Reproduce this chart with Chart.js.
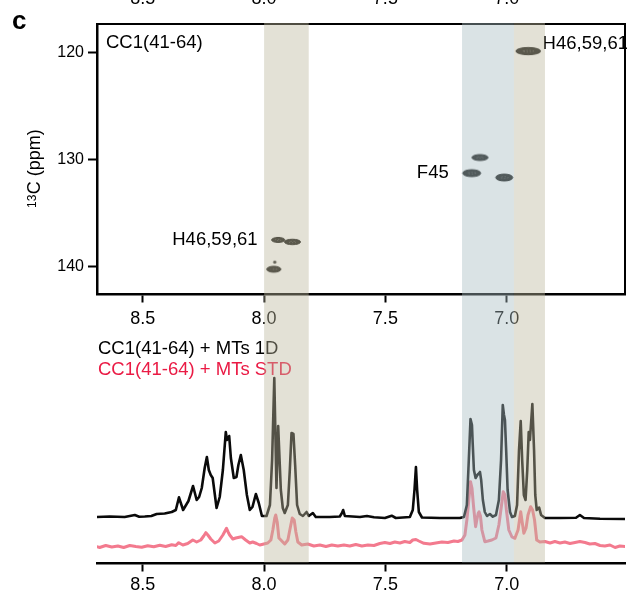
<!DOCTYPE html>
<html>
<head>
<meta charset="utf-8">
<script src="https://cdn.jsdelivr.net/npm/chart.js@4/dist/chart.umd.min.js"></script>
<style>
  html, body { margin: 0; padding: 0; background: #fff; }
  #wrap { position: relative; width: 627px; height: 595px; overflow: hidden; }
  #wrap canvas { position: absolute; left: 0; }
  #hsqc { top: 0; }
  #oneD { top: 330px; }
</style>
</head>
<body>
<div id="wrap">
  <canvas id="hsqc" width="627" height="330"></canvas>
  <canvas id="oneD" width="627" height="265"></canvas>
</div>
<script>
// ---- axes -------------------------------------------------------------
const protonRange = [6.512, 8.689];          // 1H, ppm (drawn high -> low)
const protonTicks = [8.5, 8.0, 7.5, 7.0];
const carbonRange = [117.36, 142.62];        // 13C, ppm (drawn low -> high, downward)
const carbonTicks = [120, 130, 140];

// ---- 1H-13C cross peaks -----------------------------------------------
const peakH      = [6.911, 7.110, 7.144, 7.010, 7.942, 7.883, 7.960, 7.956];
const peakC      = [119.89, 129.83, 131.29, 131.70, 137.52, 137.71, 140.26, 139.60];
const peakWidthH = [0.102, 0.066, 0.074, 0.070, 0.054, 0.066, 0.058, 0.010];
const peakWidthC = [0.68, 0.56, 0.65, 0.65, 0.47, 0.51, 0.56, 0.20];

// residue assignments and the peak each one is attached to
const assignText = ['H46,59,61', 'F45', 'H46,59,61'];
const assignPeak = [0, 2, 4];
const sampleName = 'CC1(41-64)';
const panelLetter = 'c';

// ---- highlighted 1H regions (ppm) --------------------------------------
const bandFrom = [8.000, 7.184, 6.970];
const bandTo   = [7.816, 6.970, 6.842];
const bandKind = ['His', 'Phe', 'His'];

// ---- 1D reference spectrum --------------------------------------------
const ppm1D = [8.694, 8.637, 8.575, 8.533, 8.515, 8.492, 8.465, 8.443, 8.410, 8.381,
  8.364, 8.351, 8.334, 8.312, 8.293, 8.278, 8.268, 8.257, 8.245, 8.236,
  8.228, 8.220, 8.212, 8.196, 8.183, 8.170, 8.158, 8.153, 8.144, 8.137,
  8.125, 8.114, 8.106, 8.096, 8.084, 8.071, 8.059, 8.048, 8.034, 8.022,
  8.009, 7.990, 7.976, 7.967, 7.958, 7.949, 7.942, 7.931, 7.923, 7.915,
  7.902, 7.894, 7.887, 7.879, 7.872, 7.864, 7.853, 7.840, 7.825, 7.816,
  7.799, 7.787, 7.729, 7.688, 7.679, 7.674, 7.667, 7.605, 7.576, 7.547,
  7.502, 7.474, 7.457, 7.399, 7.387, 7.380, 7.374, 7.369, 7.362, 7.349,
  7.275, 7.193, 7.176, 7.164, 7.156, 7.149, 7.143, 7.140, 7.135, 7.128,
  7.121, 7.117, 7.110, 7.105, 7.098, 7.090, 7.081, 7.069, 7.057, 7.044,
  7.032, 7.023, 7.016, 7.011, 7.007, 7.002, 6.996, 6.986, 6.978, 6.966,
  6.957, 6.949, 6.942, 6.936, 6.929, 6.922, 6.915, 6.909, 6.904, 6.894,
  6.887, 6.882, 6.876, 6.870, 6.866, 6.858, 6.842, 6.780, 6.714, 6.698,
  6.681, 6.615, 6.508];
const int1D = [0, 0.5, 0, 2, 0.3, 0.5, 1, 3, 3.5, 5,
  7, 19.7, 7, 16, 31, 17, 20, 29, 49, 60,
  47, 42, 39, 9, 20, 47, 85, 77, 81, 59,
  39, 40, 52, 62, 47, 22, 7, 10, 23, 14,
  1, 1, 12, 57, 139, 29, 91, 27, 9, 4,
  12, 47, 84, 83, 52, 12, 3, 1, 5, 1,
  4, 0, 0, 0.5, 4, 7, 1, 0, 1, -0.3,
  -1, 1.3, -1, 0, 7, 27, 50, 27, 5, -0.5,
  -1, -1, 0, 12, 57, 98, 92, 74, 47, 39,
  42, 43, 45, 37, 17, 5, 1, 3, 0.3, 2,
  17, 57, 112, 102, 97, 67, 27, 5, 0, 1,
  12, 67, 96, 57, 22, 17, 47, 85, 77, 113,
  67, 22, 7, 9, 9.3, 2, -1, -1, -0.7, 2,
  -1, -1.7, -2];

// ---- STD difference spectrum ------------------------------------------
const ppmSTD = [8.694, 8.678, 8.653, 8.628, 8.603, 8.579, 8.554, 8.529, 8.505, 8.480,
  8.455, 8.430, 8.406, 8.381, 8.364, 8.352, 8.335, 8.315, 8.294, 8.278,
  8.261, 8.249, 8.240, 8.232, 8.220, 8.203, 8.187, 8.170, 8.155, 8.149,
  8.142, 8.129, 8.117, 8.093, 8.076, 8.059, 8.047, 8.031, 8.018, 8.001,
  7.985, 7.972, 7.964, 7.956, 7.952, 7.946, 7.939, 7.927, 7.915, 7.902,
  7.894, 7.884, 7.876, 7.869, 7.861, 7.845, 7.820, 7.795, 7.770, 7.745,
  7.721, 7.696, 7.671, 7.647, 7.622, 7.597, 7.572, 7.547, 7.523, 7.502,
  7.481, 7.461, 7.440, 7.420, 7.399, 7.387, 7.374, 7.362, 7.341, 7.316,
  7.292, 7.267, 7.242, 7.217, 7.201, 7.184, 7.172, 7.164, 7.156, 7.149,
  7.143, 7.137, 7.128, 7.123, 7.117, 7.114, 7.108, 7.102, 7.090, 7.077,
  7.061, 7.044, 7.032, 7.021, 7.014, 7.007, 7.001, 6.991, 6.978, 6.966,
  6.953, 6.942, 6.936, 6.929, 6.920, 6.912, 6.901, 6.893, 6.885, 6.876,
  6.863, 6.842, 6.821, 6.801, 6.780, 6.760, 6.739, 6.718, 6.698, 6.677,
  6.657, 6.636, 6.615, 6.595, 6.574, 6.553, 6.533, 6.508];
const intSTD = [-0.5, -1.5, 0.5, -1, 0, -1.5, 0.5, -0.5, -1.3, 0.3,
  -0.8, 0.7, -0.5, 1.2, 0.5, 3.3, 1, 2.5, 6, 4,
  6, 10, 13.3, 11, 7, 3, 5, 11, 17.7, 14.3,
  11, 7, 8, 9.3, 6, 3, 4, 2.5, 1, 2,
  3, 6, 16, 28, 31, 24, 8, 5, 2, 6,
  16, 28, 26, 14, 4, 1, 2, 0, 1, -0.5,
  1, 0, 1, 0, 1.5, 0, 1, 0.5, 2.5, 3.5,
  2.5, 4, 3, 4.5, 3.5, 6, 6.5, 5, 2.7, 2,
  3, 4, 3.5, 5, 4.5, 6, 11, 26, 46, 64.3,
  58, 41, 19.3, 26, 33, 34.3, 30, 16, 4.3, 5,
  6, 8, 21, 41, 54.3, 51, 36, 16, 9, 7.7,
  16, 34.3, 24, 12.7, 18, 31, 39.3, 36, 26, 6,
  4, 4.5, 3, 4.5, 3, 4, 2.5, 3.5, 4.5, 3.5,
  2, 2.5, 0.5, 0, 1, -1.5, 0, -0.5];

const spectrumNames = ['CC1(41-64) + MTs 1D', 'CC1(41-64) + MTs STD'];

// ---- styling -----------------------------------------------------------
const FONT = '"Liberation Sans", Arial, Helvetica, sans-serif';
Chart.defaults.font.family = FONT;
Chart.defaults.color = '#000';
const bandColor = { His: 'rgba(188,183,157,0.42)', Phe: 'rgba(167,188,193,0.42)' };
const LINE_1D = '#0a0a0a';
const LINE_STD = '#f37a8e';
const TEXT_STD = '#ea1a44';
const LABEL_FONT = '18.5px ' + FONT;
const spectrumOffset = [46.5, 17.5];   // vertical stacking of the two traces

function drawBands(chart, yTop, yBottom) {
  const { ctx, scales: { x } } = chart;
  ctx.save();
  bandFrom.forEach((f, i) => {
    const x0 = x.getPixelForValue(f);
    const x1 = x.getPixelForValue(bandTo[i]);
    ctx.fillStyle = bandColor[bandKind[i]];
    ctx.fillRect(Math.min(x0, x1), yTop, Math.abs(x1 - x0), yBottom - yTop);
  });
  ctx.restore();
}

// elliptical contour sprite for a cross peak
function ellipseSprite(w, h) {
  const c = document.createElement('canvas');
  c.width = Math.ceil(w + 4);
  c.height = Math.ceil(h + 4);
  const g = c.getContext('2d');
  g.beginPath();
  g.ellipse(c.width / 2, c.height / 2, w / 2, h / 2, 0, 0, Math.PI * 2);
  g.fillStyle = '#141412';
  g.fill();
  g.lineWidth = 1;
  g.strokeStyle = '#080807';
  g.stroke();
  if (w > 8) {
    g.beginPath();
    g.ellipse(c.width / 2, c.height / 2, w * 0.22, h * 0.12, 0, 0, Math.PI * 2);
    g.setLineDash([1, 2]);
    g.lineWidth = 0.8;
    g.strokeStyle = 'rgba(170,170,165,0.5)';
    g.stroke();
  }
  return c;
}

function peakStyle(ctx) {
  const i = ctx.dataIndex;
  const xs = ctx.chart.scales.x, ys = ctx.chart.scales.y;
  if (i === undefined || !xs || !ys) return 'circle';
  const w = Math.abs(xs.getPixelForValue(peakH[i] - peakWidthH[i] / 2) - xs.getPixelForValue(peakH[i] + peakWidthH[i] / 2));
  const h = Math.abs(ys.getPixelForValue(peakC[i] - peakWidthC[i] / 2) - ys.getPixelForValue(peakC[i] + peakWidthC[i] / 2));
  return ellipseSprite(w, h);
}

const hsqcDecor = {
  id: 'hsqcDecor',
  afterDraw(chart) {
    const { ctx, chartArea: a, scales: { x, y } } = chart;
    ctx.save();
    // closing top and right edges of the frame
    ctx.strokeStyle = '#000';
    ctx.lineWidth = 2;
    ctx.beginPath();
    ctx.moveTo(a.left - 1, a.top);
    ctx.lineTo(a.right, a.top);
    ctx.lineTo(a.right, a.bottom);
    ctx.stroke();

    // panel letter
    ctx.fillStyle = '#000';
    ctx.textAlign = 'left';
    ctx.textBaseline = 'alphabetic';
    ctx.font = 'bold 26px ' + FONT;
    ctx.fillText(panelLetter, 12, 28.5);

    // tick labels of the panel above, running off the top edge
    ctx.font = '18px ' + FONT;
    ctx.textAlign = 'center';
    protonTicks.forEach(v => ctx.fillText(v.toFixed(1), x.getPixelForValue(v), 4));

    // 13C axis title with superscript mass number
    ctx.save();
    ctx.translate(40, 208);
    ctx.rotate(-Math.PI / 2);
    ctx.textAlign = 'left';
    ctx.font = '12px ' + FONT;
    ctx.fillText('13', 0, -4.3);
    const w13 = ctx.measureText('13').width;
    ctx.font = '18px ' + FONT;
    ctx.fillText('C (ppm)', w13 + 0.5, 0);
    ctx.restore();

    // sample name
    ctx.font = LABEL_FONT;
    ctx.textAlign = 'left';
    ctx.fillText(sampleName, a.left + 9, 47.5);

    // assignments
    assignText.forEach((t, k) => {
      const p = assignPeak[k];
      const px = x.getPixelForValue(peakH[p]);
      const py = y.getPixelForValue(peakC[p]);
      const half = Math.abs(x.getPixelForValue(peakH[p] - peakWidthH[p] / 2) - px);
      if (k === 0) {
        ctx.textAlign = 'left';
        ctx.fillText(t, px + half + 2, py - 2);
      } else {
        ctx.textAlign = 'right';
        ctx.fillText(t, px - half - 14, py + 5);
      }
    });
    ctx.restore();

    drawBands(chart, a.top - 1, chart.height);
  }
};

const oneDDecor = {
  id: 'oneDDecor',
  afterDraw(chart) {
    const { ctx, chartArea: a } = chart;
    ctx.save();
    ctx.font = LABEL_FONT;
    ctx.textAlign = 'left';
    ctx.textBaseline = 'alphabetic';
    ctx.fillStyle = '#000';
    ctx.fillText(spectrumNames[0], a.left + 1, 23.5);
    ctx.fillStyle = TEXT_STD;
    ctx.fillText(spectrumNames[1], a.left + 1, 44.5);
    ctx.restore();
    drawBands(chart, 0, a.bottom - 1);
  }
};

const xTickFont = { size: 18, family: FONT };

new Chart(document.getElementById('hsqc'), {
  type: 'scatter',
  data: {
    datasets: [{
      data: peakH.map((h, i) => ({ x: h, y: peakC[i] })),
      pointStyle: peakStyle,
      pointRadius: 4
    }]
  },
  options: {
    responsive: false,
    animation: false,
    events: [],
    layout: { autoPadding: false, padding: { top: 24, right: 2, left: 0, bottom: 0 } },
    plugins: { legend: { display: false }, tooltip: { enabled: false } },
    scales: {
      x: {
        type: 'linear', min: protonRange[0], max: protonRange[1], reverse: true,
        afterBuildTicks: s => { s.ticks = protonTicks.map(v => ({ value: v })); },
        afterFit: s => { s.height = 35.5; },
        ticks: { callback: v => v.toFixed(1), font: xTickFont, color: '#000', padding: 6, maxRotation: 0, autoSkip: false },
        grid: { drawOnChartArea: false, tickLength: 8, tickWidth: 2, tickColor: '#000' },
        border: { display: true, width: 2.5, color: '#000' }
      },
      y: {
        type: 'linear', min: carbonRange[0], max: carbonRange[1], reverse: true,
        afterBuildTicks: s => { s.ticks = carbonTicks.map(v => ({ value: v })); },
        afterFit: s => { s.width = 97; },
        ticks: { font: { size: 16, family: FONT }, color: '#000', padding: 4 },
        grid: { drawOnChartArea: false, tickLength: 9, tickWidth: 2, tickColor: '#000' },
        border: { display: true, width: 2.5, color: '#000' }
      }
    }
  },
  plugins: [hsqcDecor]
});

new Chart(document.getElementById('oneD'), {
  type: 'line',
  data: {
    datasets: [
      {
        data: ppm1D.map((p, i) => ({ x: p, y: int1D[i] + spectrumOffset[0] })),
        borderColor: LINE_1D, borderWidth: 2.6, pointRadius: 0, tension: 0,
        borderJoinStyle: 'round', borderCapStyle: 'round'
      },
      {
        data: ppmSTD.map((p, i) => ({ x: p, y: intSTD[i] + spectrumOffset[1] })),
        borderColor: LINE_STD, borderWidth: 3, pointRadius: 0, tension: 0,
        borderJoinStyle: 'round', borderCapStyle: 'round'
      }
    ]
  },
  options: {
    responsive: false,
    animation: false,
    events: [],
    layout: { autoPadding: false, padding: { top: 10, right: 2, left: 97, bottom: 0 } },
    plugins: { legend: { display: false }, tooltip: { enabled: false } },
    scales: {
      x: {
        type: 'linear', min: protonRange[0], max: protonRange[1], reverse: true,
        afterBuildTicks: s => { s.ticks = protonTicks.map(v => ({ value: v })); },
        afterFit: s => { s.height = 31.5; },
        ticks: { callback: v => v.toFixed(1), font: xTickFont, color: '#000', padding: 3, maxRotation: 0, autoSkip: false },
        grid: { drawOnChartArea: false, tickLength: 8, tickWidth: 2, tickColor: '#000' },
        border: { display: true, width: 2.5, color: '#000' }
      },
      y: { display: false, min: 0, max: 223.5 }
    }
  },
  plugins: [oneDDecor]
});
</script>
</body>
</html>
